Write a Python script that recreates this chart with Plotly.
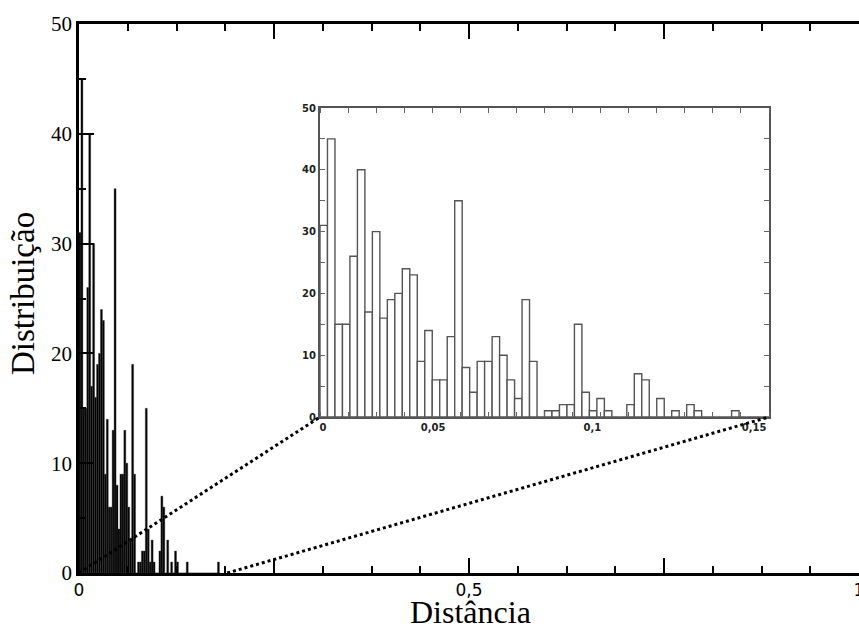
import numpy as np
import plotly.graph_objects as go

# ---- data (histogram of distances, bin width 0.0025) ----
bin_width = 0.0025
counts = [31, 45, 15, 15, 26, 40, 17, 30, 16, 19,
          20, 24, 23, 9, 14, 6, 6, 13, 35, 8,
          4, 9, 9, 13, 10, 6, 3, 19, 9, 0,
          1, 1, 2, 2, 15, 4, 1, 3, 1, 0,
          0, 2, 7, 6, 0, 3, 0, 1, 0, 2,
          1, 0, 0, 0, 0, 1, 0, 0, 0, 0,
          0, 0, 0, 0, 0, 0, 0, 0, 0, 0,
          0, 1]
bin_centers = (np.arange(len(counts)) + 0.5) * bin_width

main_xtick_vals = [0, 0.25, 0.5, 0.75, 1]
main_xtick_text = ["0", "", "0,5", "", "1"]
main_ytick_vals = [0, 10, 20, 30, 40, 50]

inset_xtick_vals = [0.001, 0.0378, 0.091, 0.145]
inset_xtick_text = ["0", "0,05", "0,1", "0,15"]
inset_ytick_vals = [0, 10, 20, 30, 40, 50]

zoom_end_main = 0.19   # where the zoom guide line leaves the main axis

# ---- layout geometry ----
W, H = 859, 628
ML, MR, MT, MB = 79, 0, 24, 55
PW, PH = W - ML - MR, H - MT - MB


def px_x(p):
    return (p - ML) / PW


def px_y(p):
    return (H - MB - p) / PH


inset_xdom = [px_x(320), px_x(769)]
inset_ydom = [px_y(417), px_y(108)]

serif = "Liberation Serif"

fig = go.Figure()
fig.add_trace(go.Bar(
    x=bin_centers, y=counts, width=bin_width,
    marker=dict(color="#000000", line=dict(color="#333333", width=0.4)),
    xaxis="x", yaxis="y", showlegend=False, hoverinfo="skip"))
fig.add_trace(go.Bar(
    x=bin_centers, y=counts, width=bin_width,
    marker=dict(color="#ffffff", line=dict(color="#555555", width=1.4)),
    xaxis="x2", yaxis="y2", showlegend=False, hoverinfo="skip"))

fig.update_layout(
    width=W, height=H,
    margin=dict(l=ML, r=MR, t=MT, b=MB, autoexpand=False),
    paper_bgcolor="white", plot_bgcolor="white",
    font=dict(family=serif, color="black"),
    xaxis=dict(domain=[0, 1], range=[0, 1], showgrid=False, zeroline=False,
               showline=True, linecolor="black", linewidth=2.5, mirror="ticks",
               ticks="inside", ticklen=15, tickwidth=1.5, tickcolor="black",
               tickmode="array", tickvals=main_xtick_vals, ticktext=main_xtick_text,
               ticklabeloverflow="allow",
               tickfont=dict(family="DejaVu Sans", size=17, color="black"),
               minor=dict(ticks="inside", tickmode="linear", tick0=0, dtick=0.0625,
                          ticklen=7, tickwidth=1.5, tickcolor="black"),
               anchor="y"),
    yaxis=dict(domain=[0, 1], range=[0, 50], showgrid=False, zeroline=False,
               showline=True, linecolor="black", linewidth=2.5,
               ticks="inside", ticklen=15, tickwidth=1.5, tickcolor="black",
               tickmode="array", tickvals=main_ytick_vals,
               tickfont=dict(family=serif, size=21, color="black"),
               minor=dict(ticks="inside", tickmode="linear", tick0=0, dtick=5,
                          ticklen=7, tickwidth=1.5, tickcolor="black"),
               anchor="x"),
    yaxis3=dict(overlaying="y", side="right", anchor="x", range=[0, 50],
                showgrid=False, zeroline=False, showline=False,
                showticklabels=False,
                ticks="inside", ticklen=15, tickwidth=1.5, tickcolor="black",
                tickmode="linear", tick0=0, dtick=10,
                minor=dict(ticks="inside", tickmode="linear", tick0=0, dtick=5,
                           ticklen=7, tickwidth=1.5, tickcolor="black")),
    xaxis2=dict(domain=inset_xdom, range=[0, 0.15], anchor="y2",
                showgrid=False, zeroline=False,
                showline=True, linecolor="#555555", linewidth=2, mirror="allticks",
                ticks="", tickmode="array", tickvals=inset_xtick_vals,
                ticktext=inset_xtick_text,
                tickfont=dict(family="DejaVu Sans", size=10, color="#222222",
                              weight="bold"),
                minor=dict(ticks="inside", tickmode="linear", tick0=0,
                           dtick=0.009375, ticklen=5, tickwidth=1,
                           tickcolor="#666666")),
    yaxis2=dict(domain=inset_ydom, range=[0, 50], anchor="x2",
                showgrid=False, zeroline=False,
                showline=True, linecolor="#555555", linewidth=2, mirror="allticks",
                ticks="inside", ticklen=5, tickwidth=1, tickcolor="#666666",
                tickmode="array", tickvals=inset_ytick_vals,
                tickfont=dict(family="DejaVu Sans", size=10, color="#222222",
                              weight="bold"),
                minor=dict(ticks="inside", tickmode="linear", tick0=0, dtick=5,
                           ticklen=5, tickwidth=1, tickcolor="#666666")),
    annotations=[
        dict(text="Distância", xref="paper", yref="paper",
             x=px_x(470), y=px_y(612), xanchor="center", yanchor="middle",
             showarrow=False, font=dict(family=serif, size=32, color="black")),
        dict(text="Distribuição", xref="paper", yref="paper",
             x=px_x(23), y=px_y(294), xanchor="center", yanchor="middle",
             textangle=-90, showarrow=False,
             font=dict(family=serif, size=33, color="black")),
    ],
    shapes=[
        dict(type="line", xref="paper", yref="paper",
             x0=0, y0=0, x1=inset_xdom[0], y1=inset_ydom[0],
             line=dict(color="black", width=3, dash="dot")),
        dict(type="line", xref="paper", yref="paper",
             x0=zoom_end_main, y0=0, x1=inset_xdom[1], y1=inset_ydom[0],
             line=dict(color="black", width=3, dash="dot")),
    ],
)

fig.write_html("out.html")
